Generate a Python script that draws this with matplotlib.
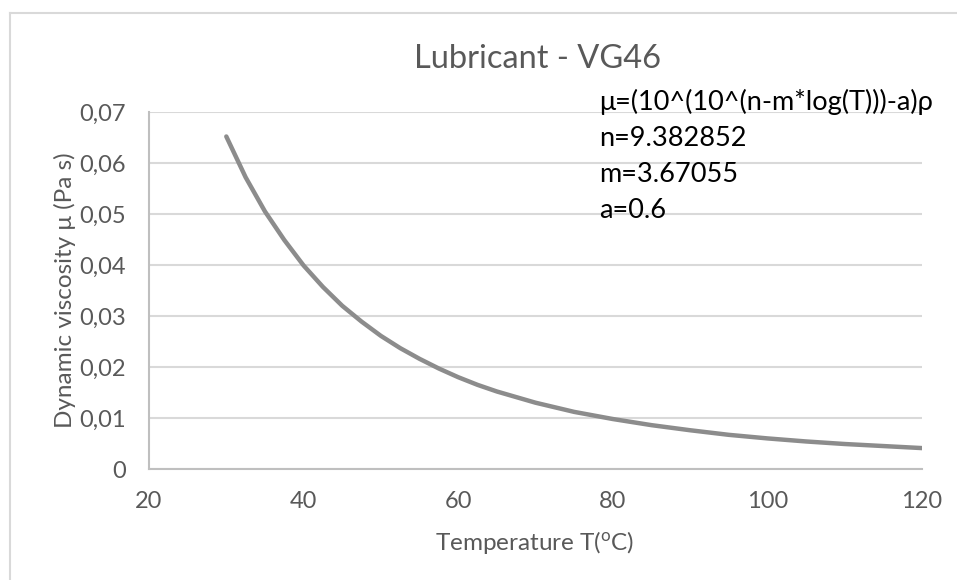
import matplotlib
matplotlib.use("Agg")
import matplotlib.pyplot as plt
from matplotlib.lines import Line2D
from matplotlib.ticker import FuncFormatter, MultipleLocator

plt.rcParams['font.family'] = ['Lato', 'DejaVu Sans']

temp_c = [30, 32.5, 35, 37.5, 40, 42.5, 45, 47.5, 50, 52.5, 55, 57.5, 60,
          62.5, 65, 67.5, 70, 75, 80, 85, 90, 95, 100, 105, 110, 115, 120]
visc = [0.0652, 0.0572, 0.0505, 0.0449, 0.0399, 0.0357, 0.0320, 0.0289,
        0.0261, 0.0237, 0.0216, 0.0197, 0.0180, 0.0165, 0.0152, 0.0141,
        0.0130, 0.0112, 0.0098, 0.0086, 0.0076, 0.0067, 0.0060, 0.0054,
        0.0049, 0.0045, 0.0041]

formula_lines = ["μ=(10^(10^(n-m*log(T)))-a)ρ", "n=9.382852", "m=3.67055", "a=0.6"]

txt = '#595959'
grid_c = '#d9d9d9'
W, H = 957, 580

fig = plt.figure(figsize=(W / 100, H / 100), dpi=100)
ax = fig.add_axes([149 / W, 1 - 469 / H, (922 - 149) / W, (469 - 112) / H])

ax.plot(temp_c, visc, color='#8c8c8c', linewidth=3.2,
        solid_capstyle='round', solid_joinstyle='round')

ax.set_xlim(20, 120)
ax.set_ylim(0, 0.07)
ax.xaxis.set_major_locator(MultipleLocator(20))
ax.yaxis.set_major_locator(MultipleLocator(0.01))
ax.yaxis.set_major_formatter(FuncFormatter(
    lambda v, p: "0" if abs(v) < 1e-9 else f"{v:.2f}".replace('.', ',')))

ax.grid(axis='y', color=grid_c, linewidth=1.5)
ax.set_axisbelow(True)
for s in ['top', 'right']:
    ax.spines[s].set_visible(False)
for s in ['left', 'bottom']:
    ax.spines[s].set_color('#bfbfbf')
    ax.spines[s].set_linewidth(1.5)
ax.tick_params(length=0, labelsize=17, colors=txt)
ax.tick_params(axis='x', pad=16)
ax.tick_params(axis='y', pad=16.5)

# podpisy osi i tytuł
fig.text(535 / W, 1 - 550 / H, "Temperature T($\\mathregular{^o}$C)",
         fontsize=17.5, color=txt, ha='center', va='baseline')
fig.text(65 / W, 1 - 290 / H, "Dynamic viscosity μ (Pa s)", fontsize=17.5,
         color=txt, ha='center', va='center', rotation=90)
fig.text(537 / W, 1 - 68 / H, "Lubricant - VG46", fontsize=23.5, color=txt,
         ha='center', va='baseline')

# równanie Walthera z parametrami
for i, line in enumerate(formula_lines):
    fig.text(599 / W, 1 - (110 + i * 36) / H, line, fontsize=19.5,
             color='black', ha='left', va='baseline')

# ramka obszaru wykresu
fig.add_artist(Line2D([10 / W, 10 / W], [0, 1 - 13 / H],
                      transform=fig.transFigure, color=grid_c, linewidth=1.5))
fig.add_artist(Line2D([10 / W, 1], [1 - 13 / H, 1 - 13 / H],
                      transform=fig.transFigure, color=grid_c, linewidth=1.5))

fig.savefig("out.png", dpi=100, facecolor='white')
